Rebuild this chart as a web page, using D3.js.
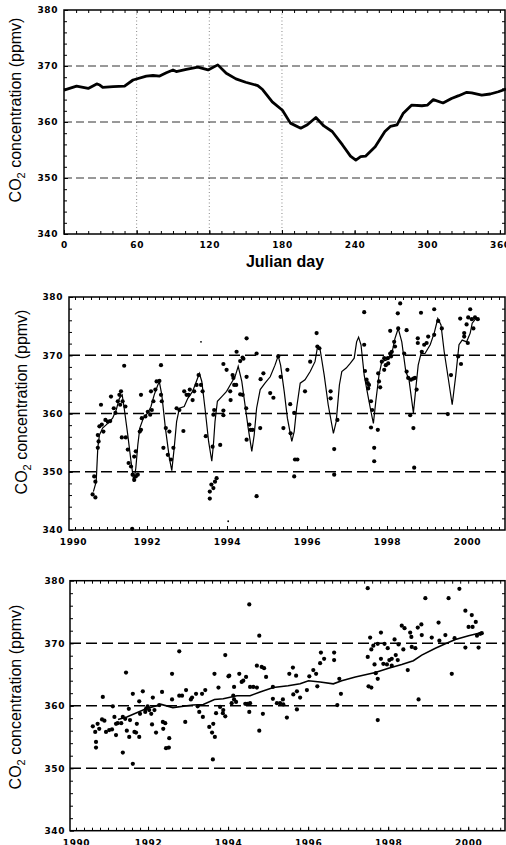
<!DOCTYPE html>
<html>
<head>
<meta charset="utf-8">
<script src="https://cdn.jsdelivr.net/npm/d3@7"></script>
<style>
  html, body { margin: 0; padding: 0; background: #fff; }
  svg { display: block; }
  .tick text { font-family: "DejaVu Sans", sans-serif; font-weight: bold; font-size: 9px; letter-spacing: 0.6px; }
  .title { font-family: "Liberation Sans", Arial, sans-serif; font-size: 16px; fill: #000; }
</style>
</head>
<body>
<svg id="chart" width="506" height="845"></svg>
<script>
// ---- data ----
// panel 1: mean annual cycle, [julian day, ppmv]
const annualCycle = [[0,365.7],[10.4,366.4],[20,366.0],[27,366.8],[29.6,366.6],[32,366.2],[40.6,366.3],[50,366.4],[57,367.5],[68,368.2],[73.5,368.3],[79,368.2],[84.5,368.8],[90,369.3],[92.7,369.0],[101,369.4],[110.5,369.8],[119,369.3],[127,370.2],[134,368.7],[142,367.7],[150,367.1],[160,366.5],[164,365.8],[172,363.6],[180.4,362.1],[187,359.8],[195.5,358.9],[201,359.5],[208,360.8],[214.6,359.3],[221.5,358.3],[230,355.9],[236.6,353.9],[241,353.2],[245,353.8],[249,353.9],[257,355.6],[265,358.3],[269.5,359.2],[275,359.5],[280,361.5],[287,363.0],[295.6,362.9],[300,363.0],[305,364.0],[313,363.4],[320,364.2],[326,364.7],[332.6,365.3],[336.7,365.2],[345,364.8],[352,365.0],[358.7,365.4],[365,365.9]];

// panel 2: fitted seasonal curve, [year, ppmv]
const seasonalFit = [[1990.66,346.6],[1990.73,348.3],[1990.77,354.1],[1990.81,356.3],[1990.89,357.5],[1991.02,358.3],[1991.14,359.2],[1991.23,360.6],[1991.31,362.6],[1991.38,363.2],
[1991.43,360.9],[1991.52,356.3],[1991.60,351.8],[1991.67,348.3],[1991.72,350.6],[1991.77,354.6],[1991.82,357.5],[1991.91,359.2],[1992.02,360.1],[1992.10,361.2],
[1992.18,363.2],[1992.27,364.9],[1992.31,365.4],[1992.37,363.2],[1992.46,357.5],[1992.56,352.3],[1992.62,350.2],[1992.68,354.1],[1992.74,358.6],[1992.81,360.9],
[1992.93,361.2],[1993.02,362.6],[1993.14,363.8],[1993.25,365.8],[1993.31,366.9],[1993.37,365.5],[1993.46,360.3],[1993.54,355.2],[1993.62,351.8],[1993.66,354.6],
[1993.70,358.6],[1993.76,362.1],[1993.87,362.9],[1993.99,363.8],[1994.08,364.9],[1994.20,366.3],[1994.28,368.1],[1994.37,365.5],[1994.45,361.5],[1994.53,357.5],
[1994.62,353.5],[1994.68,356.3],[1994.74,360.9],[1994.83,364.1],[1994.95,365.2],[1995.08,366.3],[1995.20,368.3],[1995.28,369.9],[1995.34,368.3],[1995.43,363.8],
[1995.51,359.2],[1995.62,355.2],[1995.68,356.9],[1995.74,360.9],[1995.83,365.2],[1995.95,365.8],[1996.08,367.2],[1996.20,368.9],[1996.26,371.3],[1996.33,370.9],
[1996.43,366.6],[1996.53,361.5],[1996.66,356.6],[1996.73,358.6],[1996.81,364.9],[1996.87,367.2],[1996.98,367.8],[1997.08,368.6],[1997.18,369.5],[1997.24,372.3],
[1997.29,373.1],[1997.35,371.8],[1997.43,366.6],[1997.52,363.2],[1997.60,360.3],[1997.66,358.3],[1997.72,362.1],[1997.80,366.6],[1997.87,368.9],[1997.99,369.2],
[1998.12,370.3],[1998.20,372.9],[1998.28,374.6],[1998.37,372.3],[1998.47,367.2],[1998.55,365.8],[1998.60,363.2],[1998.66,360.1],[1998.72,364.3],[1998.78,368.3],
[1998.85,370.3],[1998.95,370.3],[1999.08,371.8],[1999.18,373.8],[1999.27,376.3],[1999.35,375.2],[1999.43,370.6],[1999.53,366.1],[1999.63,361.5],[1999.72,366.6],
[1999.80,371.8],[1999.88,372.6],[1999.99,372.3],[2000.08,373.8],[2000.13,375.5],[2000.22,376.3]];

// panel 2: observations
const obsEarly = [[1990.64,346.1],[1990.71,345.6],[1990.68,349.2],[1990.71,348.3],[1990.85,361.5],[1990.77,356.3],[1990.79,355.2],[1990.77,354.1],[1990.81,357.8],[1990.87,358.1],[1990.91,356.9],[1990.96,358.9],[1991.02,358.6],[1991.08,358.7],[1991.10,362.9],[1991.17,360.9],[1991.21,360.1],[1991.27,362.1],[1991.31,363.2],[1991.35,363.8],[1991.33,361.5],[1991.39,362.1],[1991.43,368.2],[1991.46,361.2],[1991.37,355.9],[1991.47,355.9],[1991.52,353.8],[1991.54,351.5],[1991.60,350.9],[1991.64,349.5],[1991.68,348.6],[1991.72,349.2],[1991.77,349.5],[1991.68,352.6],[1991.72,353.5],[1991.82,356.9],[1991.85,357.2],[1991.85,363.2],[1991.87,359.2],[1991.96,359.5],[1992.02,360.3],[1992.08,359.8],[1992.12,360.6],[1992.10,363.8],[1992.16,362.1],[1992.21,364.1],[1992.24,365.5],[1992.31,365.6],[1992.35,368.3],[1992.35,363.2],[1992.37,362.1],[1992.41,354.1],[1992.47,357.5],[1992.56,356.9],[1992.52,352.9],[1992.60,352.1],[1992.66,354.1],[1992.74,360.9],[1992.81,360.6],[1992.91,357.0],[1992.93,363.8],[1992.99,363.2],[1993.04,363.2],[1993.07,364.1],[1993.14,362.3],[1993.18,363.8],[1993.24,364.9],[1993.29,366.6],[1993.35,364.9],[1993.39,363.8],[1993.47,356.1],[1993.57,346.6],[1993.61,347.8],[1993.57,345.4],[1993.68,360.6],[1991.63,340.2]];
const obsMid = [[1993.66,347.2],[1993.70,348.3],[1993.74,348.9],[1993.64,354.3],[1993.66,359.8],[1993.83,354.6],[1993.91,360.5],[1993.91,359.7],[1993.91,368.5],[1993.99,367.5],[1994.08,363.8],[1994.09,362.3],[1994.14,366.6],[1994.16,366.1],[1994.18,364.9],[1994.23,364.9],[1994.24,370.6],[1994.33,369.0],[1994.39,369.6],[1994.41,369.4],[1994.33,363.3],[1994.39,363.2],[1994.49,372.9],[1994.49,366.3],[1994.48,360.9],[1994.56,358.1],[1994.59,357.2],[1994.64,357.2],[1994.49,355.5],[1994.74,370.3],[1994.74,345.8],[1994.83,357.5],[1994.84,365.9],[1994.91,366.9],[1995.08,363.5],[1995.16,362.7],[1995.28,369.8],[1995.34,366.3],[1995.41,357.5],[1995.51,367.5],[1995.58,361.6],[1995.59,356.6],[1995.68,360.1],[1995.70,352.1],[1995.76,352.1],[1995.68,349.2],[1995.95,363.8],[1996.08,368.9],[1996.24,373.8],[1996.26,371.5],[1996.31,371.2],[1996.59,363.8],[1996.59,362.6],[1996.68,353.9],[1996.68,349.5],[1996.76,358.9]];
const obsLate = [[1997.43,377.4],[1997.43,371.8],[1997.45,367.3],[1997.49,365.8],[1997.52,365.2],[1997.55,364.9],[1997.53,364.3],[1997.60,362.1],[1997.63,360.6],[1997.60,357.6],[1997.68,354.1],[1997.68,351.8],[1997.77,357.2],[1997.78,366.9],[1997.80,365.5],[1997.83,364.5],[1997.87,368.9],[1997.93,369.5],[1997.93,367.5],[1997.97,368.3],[1998.02,369.5],[1998.03,368.6],[1998.08,370.3],[1998.10,369.8],[1998.12,370.6],[1998.08,374.2],[1998.18,372.3],[1998.20,371.5],[1998.27,377.2],[1998.33,378.9],[1998.28,374.6],[1998.43,370.3],[1998.49,374.3],[1998.49,367.2],[1998.53,366.1],[1998.60,365.8],[1998.66,366.0],[1998.70,366.1],[1998.74,364.1],[1998.58,359.7],[1998.66,357.5],[1998.68,350.7],[1998.77,372.9],[1998.77,372.1],[1998.85,377.3],[1998.87,370.6],[1998.93,371.8],[1998.99,372.1],[1999.03,373.2],[1999.18,377.9],[1999.18,373.5],[1999.28,375.9],[1999.37,374.6],[1999.52,359.9],[1999.60,366.6],[1999.78,369.8],[1999.85,368.5],[1999.83,376.3],[1999.93,373.8],[1999.93,373.2],[1999.99,375.3],[2000.02,372.1],[2000.03,376.5],[2000.08,377.9],[2000.12,376.2],[2000.16,374.6],[2000.20,376.5],[2000.27,376.2]];
const strayDots = [[1993.35,372.3],[1994.03,341.5]];

// panel 3: deseasonalised values and trend
const deseasEarly = [[1990.62,356.7],[1990.68,355.8],[1990.70,354.2],[1990.70,353.3],[1990.74,357.1],[1990.78,356.3],[1990.87,361.4],[1990.85,357.8],[1990.91,357.6],[1990.95,355.8],[1991.03,356.1],[1991.10,356.2],[1991.12,359.9],[1991.16,358.2],[1991.20,357.1],[1991.24,357.2],[1991.20,355.3],[1991.33,357.2],[1991.37,352.5],[1991.37,358.2],[1991.43,357.9],[1991.45,365.3],[1991.47,356.0],[1991.53,355.0],[1991.52,359.5],[1991.55,357.7],[1991.62,350.7],[1991.62,361.9],[1991.66,355.8],[1991.70,355.7],[1991.72,357.1],[1991.78,360.7],[1991.78,355.0],[1991.80,358.7],[1991.87,362.3],[1991.93,359.0],[1991.95,359.5],[1991.99,359.9],[1992.03,359.3],[1992.08,358.7],[1992.10,357.0],[1992.12,361.3],[1992.16,359.3],[1992.20,355.7],[1992.28,360.1],[1992.35,362.2],[1992.37,357.4],[1992.38,356.3],[1992.43,357.2],[1992.45,353.2],[1992.52,353.3],[1992.53,354.8],[1992.60,365.1],[1992.60,361.0],[1992.78,368.7],[1992.78,361.6],[1992.85,361.6],[1992.93,357.4],[1992.95,362.5],[1993.07,361.0],[1993.10,361.3],[1993.20,361.9],[1993.24,359.9],[1993.28,359.0],[1993.35,361.9],[1993.43,362.5],[1993.37,358.2],[1993.53,356.6],[1993.60,355.7],[1993.62,351.4],[1993.66,365.1]];
const deseasMid = [[1993.67,355.0],[1993.63,357.1],[1993.70,358.8],[1993.76,362.9],[1993.80,359.8],[1993.87,358.8],[1993.88,359.3],[1993.93,368.1],[1993.93,358.3],[1994.01,364.7],[1994.03,364.8],[1994.09,360.4],[1994.13,361.6],[1994.15,363.0],[1994.15,361.0],[1994.20,360.6],[1994.28,365.1],[1994.34,363.8],[1994.38,364.0],[1994.45,364.6],[1994.43,360.3],[1994.48,360.3],[1994.55,360.4],[1994.53,359.0],[1994.53,376.2],[1994.55,363.0],[1994.63,363.0],[1994.72,362.9],[1994.78,371.2],[1994.72,366.4],[1994.78,356.0],[1994.84,366.2],[1994.90,366.0],[1994.87,358.7],[1994.95,364.6],[1995.12,363.0],[1995.12,361.1],[1995.22,360.4],[1995.30,360.4],[1995.37,361.0],[1995.38,360.2],[1995.47,358.1],[1995.53,365.1],[1995.62,366.1],[1995.63,361.8],[1995.70,364.8],[1995.72,362.3],[1995.72,359.4],[1995.80,361.3],[1995.97,362.5],[1996.03,364.7],[1996.13,365.7],[1996.20,365.1],[1996.23,363.1],[1996.30,366.8],[1996.32,368.5],[1996.40,367.5],[1996.65,368.5],[1996.65,367.3],[1996.73,360.1],[1996.78,364.3],[1996.82,361.9]];
const deseasLate = [[1997.49,378.8],[1997.49,367.8],[1997.51,363.1],[1997.58,362.9],[1997.55,370.9],[1997.58,369.0],[1997.63,369.6],[1997.66,366.6],[1997.69,365.2],[1997.74,364.3],[1997.74,357.7],[1997.74,369.9],[1997.82,371.7],[1997.82,367.5],[1997.88,366.7],[1997.91,369.9],[1997.97,366.6],[1997.99,369.2],[1998.03,367.3],[1998.09,366.4],[1998.09,367.5],[1998.16,370.6],[1998.19,368.1],[1998.24,367.3],[1998.26,369.8],[1998.34,372.8],[1998.41,372.4],[1998.38,369.0],[1998.49,365.7],[1998.55,371.7],[1998.58,371.0],[1998.59,369.4],[1998.68,369.2],[1998.74,372.5],[1998.76,361.0],[1998.83,373.0],[1998.84,371.3],[1998.93,377.2],[1999.09,370.9],[1999.26,373.3],[1999.28,370.4],[1999.43,371.3],[1999.51,377.2],[1999.59,365.1],[1999.66,370.8],[1999.78,378.7],[1999.93,375.2],[1999.93,369.3],[2000.01,372.6],[2000.09,374.5],[2000.11,372.6],[2000.19,373.4],[2000.22,371.2],[2000.26,369.3],[2000.30,371.5],[2000.34,371.6]];
const trendLine = [[1991.25,357.8],[1991.47,358.2],[1991.95,359.5],[1992.33,360.2],[1992.62,359.7],[1993.12,360.1],[1993.38,360.2],[1993.66,361.0],[1993.88,361.1],[1994.22,361.6],[1994.55,361.6],[1994.80,362.2],[1995.13,362.9],[1995.50,363.2],[1995.80,363.5],[1996.01,364.0],[1996.30,363.8],[1996.63,363.5],[1996.84,364.0],[1997.18,364.6],[1997.68,365.3],[1998.01,366.0],[1998.34,366.6],[1998.63,367.2],[1998.84,368.1],[1999.18,369.2],[1999.43,369.9],[1999.68,370.6],[2000.01,371.2],[2000.34,371.7]];

const ppmTicks = [340, 350, 360, 370, 380];
const gridLevels = [350, 360, 370];
const dayTicks = [0, 60, 120, 180, 240, 300, 360];
const dayGrid = [60, 120, 180];
const yearTicks = [1990, 1992, 1994, 1996, 1998, 2000];

const svg = d3.select("#chart");

// frame, inward minor ticks, labels and dashed grid for one panel
function drawFrame(p) {
  const g = svg.append("g");
  const x = p.x, y = p.y;
  const [x0, x1] = x.range(), [y1, y0] = y.range();

  g.selectAll(".hgrid").data(gridLevels).enter().append("line")
    .attr("x1", x0).attr("x2", x1)
    .attr("y1", d => y(d)).attr("y2", d => y(d))
    .attr("stroke", p.gridColor).attr("stroke-width", p.gridWidth)
    .attr("stroke-dasharray", p.gridDash);

  const noDomain = s => s.select(".domain").remove();
  // minor ticks on all four sides
  g.append("g").attr("transform", `translate(0,${y1})`)
    .call(d3.axisBottom(x).tickValues(p.xMinor).tickSize(-3).tickFormat("")).call(noDomain);
  g.append("g").attr("transform", `translate(0,${y0})`)
    .call(d3.axisTop(x).tickValues(p.xMinor).tickSize(-3).tickFormat("")).call(noDomain);
  g.append("g").attr("transform", `translate(${x0},0)`)
    .call(d3.axisLeft(y).tickValues(d3.range(342, 380, 2)).tickSize(-3).tickFormat("")).call(noDomain);
  g.append("g").attr("transform", `translate(${x1},0)`)
    .call(d3.axisRight(y).tickValues(d3.range(342, 380, 2)).tickSize(-3).tickFormat("")).call(noDomain);

  // labelled axes
  g.append("g").attr("transform", `translate(0,${y1})`)
    .call(d3.axisBottom(x).tickValues(p.xMajor).tickSize(-4).tickPadding(p.xPad).tickFormat(d3.format("d")))
    .call(noDomain)
    .call(s => s.selectAll(".tick").filter(d => x(d) < x0).each(function () {
      d3.select(this).select("line").remove();
      d3.select(this).select("text").attr("dx", p.firstShift);
    }));
  g.append("g").attr("transform", `translate(${x0},0)`)
    .call(d3.axisLeft(y).tickValues(ppmTicks).tickSize(-4).tickPadding(p.yPad).tickFormat(d3.format("d")))
    .call(noDomain);

  g.append("rect").attr("x", x0).attr("y", y0).attr("width", x1 - x0).attr("height", y1 - y0)
    .attr("fill", "none").attr("stroke", "#000").attr("stroke-width", 1.5);
  return g;
}

function yTitle(tx, ty) {
  const t = svg.append("text").attr("class", "title")
    .attr("text-anchor", "middle")
    .attr("transform", `translate(${tx},${ty}) rotate(-90)`);
  t.append("tspan").text("CO");
  t.append("tspan").attr("dy", 4).attr("font-size", 11).text("2");
  t.append("tspan").attr("dy", -4).text(" concentration (ppmv)");
}

// ---- panel 1: annual cycle ----
const x1s = d3.scaleLinear().domain([0, 364.2]).range([64, 505]);
const y1s = d3.scaleLinear().domain([340, 380]).range([234, 10]);
const p1 = svg.append("g");
p1.selectAll(".vgrid").data(dayGrid).enter().append("line")
  .attr("x1", d => x1s(d)).attr("x2", d => x1s(d)).attr("y1", 10).attr("y2", 234)
  .attr("stroke", "#888").attr("stroke-width", 1).attr("stroke-dasharray", "1,2.5");
drawFrame({ x: x1s, y: y1s, xMinor: d3.range(10, 364, 10), xMajor: dayTicks, xPad: 8, yPad: 6,
  gridColor: "#333", gridWidth: 1, gridDash: "8,4", firstShift: 0 });
svg.append("path").datum(annualCycle)
  .attr("fill", "none").attr("stroke", "#000").attr("stroke-width", 2.8)
  .attr("stroke-linejoin", "round")
  .attr("d", d3.line().x(d => x1s(d[0])).y(d => y1s(d[1])));
svg.append("text").attr("class", "title").attr("x", 285).attr("y", 267)
  .attr("text-anchor", "middle").attr("font-weight", "bold").attr("font-size", 15.5).text("Julian day");
yTitle(20.5, 110);

// ---- panel 2: observations and seasonal fit ----
const x2s = d3.scaleLinear().domain([1990.05, 2000.95]).range([69, 505]);
const y2s = d3.scaleLinear().domain([340, 380]).range([530, 297]);
drawFrame({ x: x2s, y: y2s, xMinor: d3.range(1990.2, 2000.9, 0.2), xMajor: yearTicks, xPad: 9, yPad: 6,
  gridColor: "#000", gridWidth: 1.6, gridDash: "11,5", firstShift: 6 });
svg.append("path").datum(seasonalFit)
  .attr("fill", "none").attr("stroke", "#000").attr("stroke-width", 1.2)
  .attr("d", d3.line().x(d => x2s(d[0])).y(d => y2s(d[1])));
svg.append("g").selectAll("circle").data(obsEarly.concat(obsMid, obsLate)).enter().append("circle")
  .attr("cx", d => x2s(d[0])).attr("cy", d => y2s(d[1])).attr("r", 2.1).attr("fill", "#000");
svg.append("g").selectAll("circle").data(strayDots).enter().append("circle")
  .attr("cx", d => x2s(d[0])).attr("cy", d => y2s(d[1])).attr("r", 0.9).attr("fill", "#000");
yTitle(27, 402);

// ---- panel 3: deseasonalised values and trend ----
const x3s = d3.scaleLinear().domain([1990.05, 2000.92]).range([70, 505]);
const y3s = d3.scaleLinear().domain([340, 380]).range([830.7, 580.7]);
drawFrame({ x: x3s, y: y3s, xMinor: d3.range(1990.2, 2000.9, 0.2), xMajor: yearTicks, xPad: 9, yPad: 5,
  gridColor: "#000", gridWidth: 1.6, gridDash: "11,5", firstShift: 8 });
svg.append("g").selectAll("circle").data(deseasEarly.concat(deseasMid, deseasLate)).enter().append("circle")
  .attr("cx", d => x3s(d[0])).attr("cy", d => y3s(d[1])).attr("r", 2.1).attr("fill", "#000");
svg.append("path").datum(trendLine)
  .attr("fill", "none").attr("stroke", "#000").attr("stroke-width", 1.6)
  .attr("d", d3.line().x(d => x3s(d[0])).y(d => y3s(d[1])));
yTitle(21, 697);
</script>
</body>
</html>
